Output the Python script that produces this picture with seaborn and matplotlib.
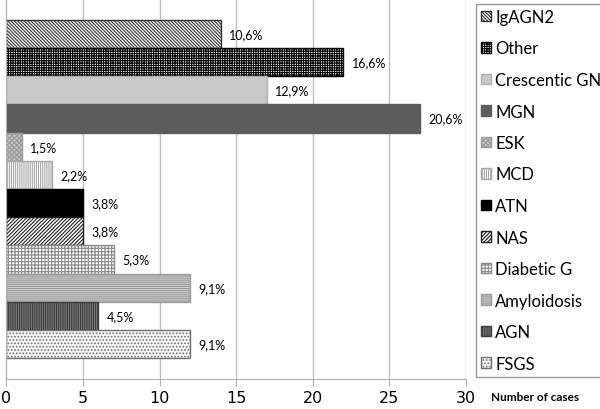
import matplotlib
matplotlib.use("Agg")
import matplotlib.pyplot as plt
import pandas as pd
import seaborn as sns

# Diagnoses, top bar first
diagnoses = ["IgAGN2", "Other", "Crescentic GN", "MGN", "ESK", "MCD",
             "ATN", "NAS", "Diabetic G", "Amyloidosis", "AGN", "FSGS"]
cases = [14, 22, 17, 27, 1, 3, 5, 5, 7, 12, 6, 12]
percent_labels = ["10,6%", "16,6%", "12,9%", "20,6%", "1,5%", "2,2%",
                  "3,8%", "3,8%", "5,3%", "9,1%", "4,5%", "9,1%"]
x_ticks = [0, 5, 10, 15, 20, 25, 30]

# (face colour, edge/hatch colour, hatch) for each bar
styles = [
    ("white", "#333333", "\\" * 10),
    ("white", "black", "+" * 7),
    ("#c8c8c8", "#b0b0b0", ""),
    ("#5c5c5c", "#5c5c5c", ""),
    ("#c4c4c4", "#9a9a9a", "x" * 7),
    ("white", "#a8a8a8", "|" * 8),
    ("black", "black", ""),
    ("white", "#222222", "/" * 9),
    ("white", "#8a8a8a", "+" * 5),
    ("#d0d0d0", "#9a9a9a", "-" * 8),
    ("#8a8a8a", "#3c3c3c", "|" * 9),
    ("#f6f6f6", "#707070", "." * 5),
]

df = pd.DataFrame({"diagnosis": diagnoses, "cases": cases, "group": "all"})

plt.rcParams["hatch.linewidth"] = 0.8
fig = plt.figure(figsize=(6, 4.1), dpi=100)
ax = fig.add_axes([0.0105, 0.073, 0.766, 0.927])
plt.rcParams["font.family"] = ["Lato", "DejaVu Sans"]

sns.barplot(data=df, x="cases", y="group", hue="diagnosis", hue_order=diagnoses,
            orient="h", width=0.89, dodge=True, legend=False, ax=ax,
            errorbar=None)

bars = ax.containers
for cont, (fc, ec, hatch) in zip(bars, styles):
    for patch in cont:
        patch.set_facecolor(fc)
        patch.set_edgecolor(ec)
        patch.set_hatch(hatch)
        patch.set_linewidth(1)

for cont, lab in zip(bars, percent_labels):
    ax.bar_label(cont, labels=[lab], padding=6, fontsize=9, family="Lato")

ax.set_ylim(0.5, -0.5)
ax.set_xlim(0, 30)
ax.set_xticks(x_ticks)
ax.set_yticks([])
ax.set_xlabel("")
ax.set_ylabel("")
ax.grid(axis="x", color="#c0c0c0", linewidth=1)
ax.set_axisbelow(True)
for side in ["top", "right"]:
    ax.spines[side].set_visible(False)
ax.spines["left"].set_color("#b0b0b0")
ax.spines["bottom"].set_color("#b0b0b0")
ax.tick_params(axis="x", length=5, color="#b0b0b0", labelsize=11.5, pad=3)

handles = [cont[0] for cont in bars]
fig.legend(handles, diagnoses, loc="upper left",
           bbox_to_anchor=(476 / 600, 1 - 5 / 410), fontsize=12,
           handlelength=0.6, handleheight=0.6, handletextpad=0.25,
           labelspacing=0.93, borderpad=0.3, frameon=True, fancybox=False,
           edgecolor="#808080", borderaxespad=0)

fig.text(535 / 600, 1 - 398 / 410, "Number of cases", ha="center", va="center",
         fontsize=8.5, fontweight="bold")

fig.savefig("out.png", dpi=100)
